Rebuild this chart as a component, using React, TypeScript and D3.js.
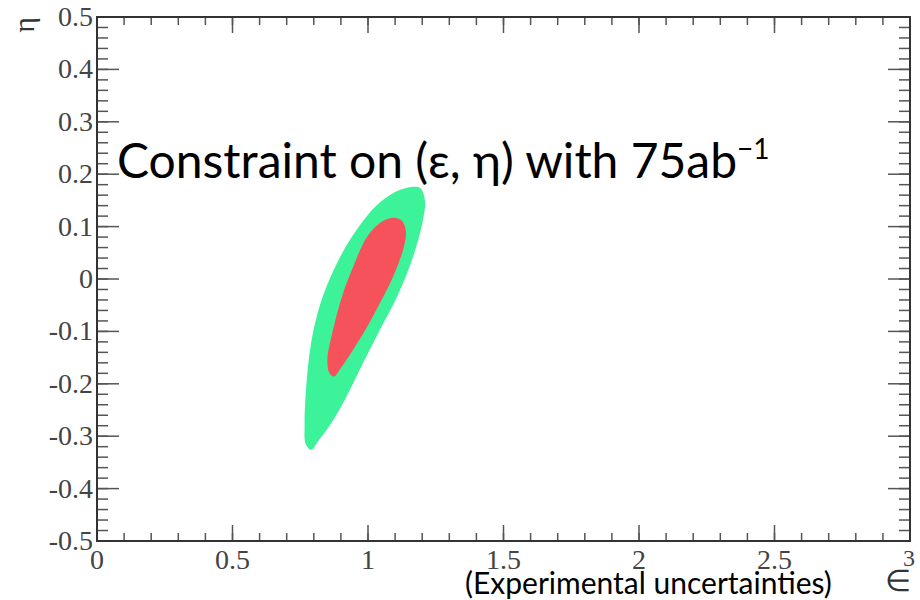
import * as d3 from 'd3';
import React from 'react';

// axis ticks (major) and their labels
const epsTicks = [0, 0.5, 1, 1.5, 2, 2.5, 3];
const epsLabels = ['0', '0.5', '1', '1.5', '2', '2.5', '3'];
const etaTicks = [-0.5, -0.4, -0.3, -0.2, -0.1, 0, 0.1, 0.2, 0.3, 0.4, 0.5];
const etaLabels = ['-0.5', '-0.4', '-0.3', '-0.2', '-0.1', '0', '0.1', '0.2', '0.3', '0.4', '0.5'];

// outer (green) allowed region, boundary
const outerEps = [1.192, 1.21, 1.203, 1.166, 1.107, 1.044, 0.982, 0.923, 0.865, 0.815, 0.79, 0.77, 0.766, 0.772, 0.79, 0.825, 0.876, 0.94, 1.025, 1.1, 1.166];
const outerEta = [0.174, 0.151, 0.113, 0.042, -0.034, -0.097, -0.16, -0.222, -0.275, -0.31, -0.326, -0.315, -0.28, -0.206, -0.122, -0.046, 0.02, 0.08, 0.137, 0.166, 0.176];

// inner (red) region
const innerEps = [1.107, 1.129, 1.14, 1.129, 1.092, 1.044, 0.996, 0.945, 0.9, 0.875, 0.858, 0.85, 0.871, 0.908, 0.945, 0.996, 1.044, 1.081];
const innerEta = [0.116, 0.109, 0.088, 0.055, 0.004, -0.046, -0.092, -0.135, -0.17, -0.186, -0.18, -0.155, -0.097, -0.027, 0.023, 0.08, 0.107, 0.116];

const title = 'Constraint on (\u03b5, \u03b7) with 75ab';
const subtitle = '(Experimental uncertainties)';

export default function App() {
  // frame of the plot, in page pixels
  const left = 97;
  const right = 910;
  const top = 17;
  const bottom = 541;

  const x = d3.scaleLinear().domain([0, 3]).range([left, right]);
  const y = d3.scaleLinear().domain([-0.5, 0.5]).range([bottom, top]);

  const xMinor = x.ticks(30);
  const yMinor = y.ticks(50);

  const area = (eps: number[], eta: number[]) =>
    d3
      .line<number>()
      .x((d) => x(eps[d]))
      .y((d) => y(eta[d]))
      .curve(d3.curveCatmullRomClosed.alpha(0.5))(d3.range(eps.length)) || '';

  const axisColor = '#444';
  const tickFont = '"Liberation Serif", "Times New Roman", serif';
  const titleFont = 'Lato, "Open Sans", sans-serif';

  return (
    <svg
      width={920}
      height={600}
      style={{ position: 'absolute', left: 0, top: 0, background: '#fff' }}
    >
      <rect x={0} y={0} width={920} height={600} fill="#fff" />

      {/* allowed regions */}
      <path d={area(outerEps, outerEta)} fill="#3cf39a" />
      <path d={area(innerEps, innerEta)} fill="#f6525b" />

      {/* ticks on all four sides */}
      <g stroke="#555" strokeWidth={1.5}>
        {xMinor.map((t) => (
          <g key={'xm' + t}>
            <line x1={x(t)} x2={x(t)} y1={bottom} y2={bottom - 8} />
            <line x1={x(t)} x2={x(t)} y1={top} y2={top + 8} />
          </g>
        ))}
        {yMinor.map((t) => (
          <g key={'ym' + t}>
            <line x1={left} x2={left + 11} y1={y(t)} y2={y(t)} />
            <line x1={right} x2={right - 11} y1={y(t)} y2={y(t)} />
          </g>
        ))}
        {epsTicks.map((t) => (
          <g key={'xM' + t}>
            <line x1={x(t)} x2={x(t)} y1={bottom} y2={bottom - 16} />
            <line x1={x(t)} x2={x(t)} y1={top} y2={top + 16} />
          </g>
        ))}
        {etaTicks.map((t) => (
          <g key={'yM' + t}>
            <line x1={left} x2={left + 22} y1={y(t)} y2={y(t)} />
            <line x1={right} x2={right - 22} y1={y(t)} y2={y(t)} />
          </g>
        ))}
      </g>

      {/* frame */}
      <rect
        x={left}
        y={top}
        width={right - left}
        height={bottom - top}
        fill="none"
        stroke="#333"
        strokeWidth={2}
      />

      {/* tick labels */}
      <g fill={axisColor} fontFamily={tickFont} fontSize={28}>
        {epsTicks.map((t, i) => (
          <text
            key={'xl' + t}
            x={i === epsTicks.length - 1 ? x(t) - 1 : x(t)}
            y={i === epsTicks.length - 1 ? 566 : 569}
            textAnchor="middle"
            fontSize={i === epsTicks.length - 1 ? 24 : 28}
          >
            {epsLabels[i]}
          </text>
        ))}
        {etaTicks.map((t, i) => (
          <text key={'yl' + t} x={93} y={y(t) + 9} textAnchor="end">
            {etaLabels[i]}
          </text>
        ))}
      </g>

      {/* axis titles */}
      <text
        x={911}
        y={591}
        textAnchor="end"
        fontFamily={tickFont}
        fontSize={30}
        fill="#333"
      >
        {'\u2208'}
      </text>
      <text
        transform="translate(34,17) rotate(-90)"
        textAnchor="end"
        fontFamily={tickFont}
        fontSize={30}
        fill="#333"
      >
        {'\u03b7'}
      </text>

      {/* annotations */}
      <text x={117} y={178} fontFamily={titleFont} fontSize={48} fill="#000">
        {title}
        <tspan fontSize={28} dy={-19}>
          {'\u2212' + '1'}
        </tspan>
      </text>
      <text x={465} y={594} fontFamily={titleFont} fontSize={30} fill="#000">
        {subtitle}
      </text>
    </svg>
  );
}
